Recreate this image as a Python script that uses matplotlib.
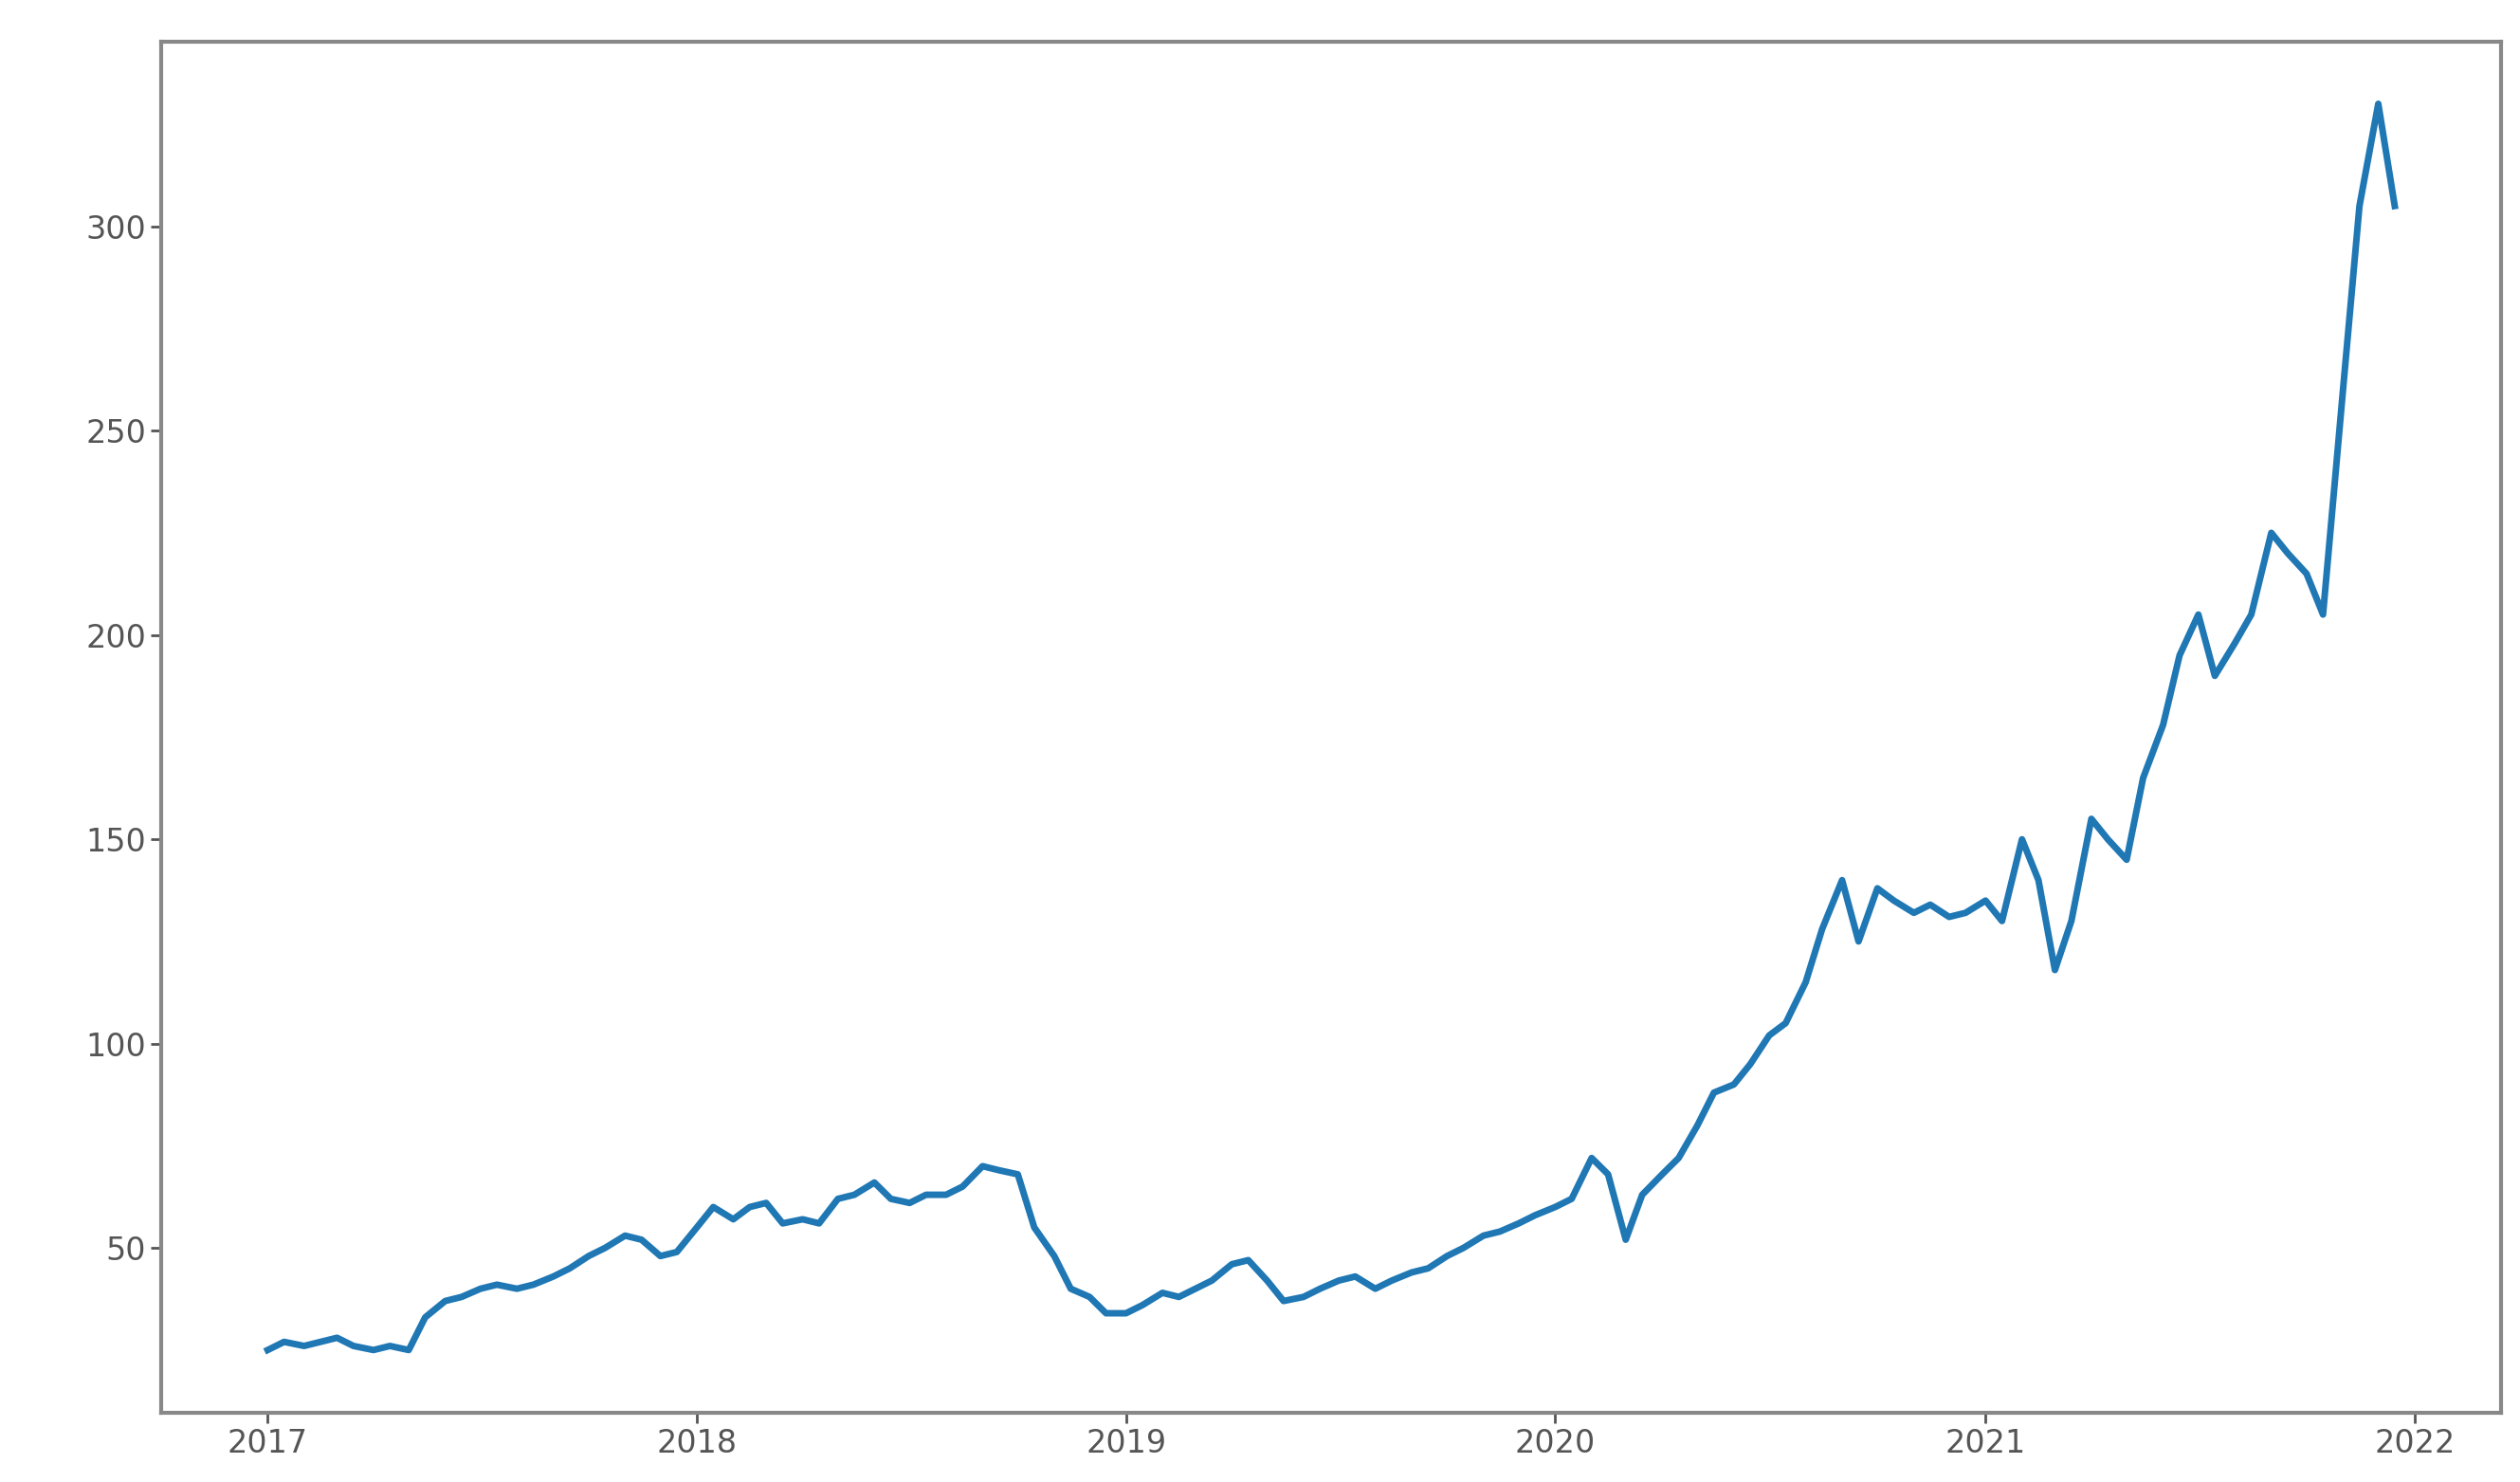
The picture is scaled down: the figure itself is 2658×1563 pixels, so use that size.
import matplotlib
matplotlib.use("Agg")
import matplotlib.pyplot as plt
import pandas as pd

start = "2017-01-01"
prices = [25, 27, 26, 27, 28, 26, 25, 26, 25, 33, 37, 38, 40, 41, 40, 41, 43, 45, 48, 50, 53, 52, 48, 49,
          55, 60, 57, 60, 61, 56, 57, 56, 62, 63, 66, 62, 61, 63, 63, 65, 70, 69, 68, 55, 48, 40, 38, 34,
          34, 36, 39, 38, 40, 42, 46, 47, 42, 37, 38, 40, 42, 43, 40, 42, 44, 45, 48, 50, 53, 54, 56, 58,
          60, 62, 72, 68, 52, 63, 68, 72, 80, 88, 90, 95, 102, 105, 115, 128, 140, 125, 138, 135, 132, 134, 131, 132,
          135, 130, 150, 140, 118, 130, 155, 150, 145, 165, 178, 195, 205, 190, 198, 205, 225, 220, 215, 205, 260, 305, 330, 305]
dates = pd.date_range(start, periods=len(prices), freq="SMS")

fig = plt.figure(figsize=(26.58, 15.63), dpi=100)
ax = fig.add_axes([0.064, 0.047, 0.9285, 0.925])
ax.plot(dates, prices, color="#1f77b4", lw=5)
for s in ax.spines.values():
    s.set_color("#888888"); s.set_linewidth(3)
ax.tick_params(labelsize=24, colors="#555555", length=8, width=2)
fig.savefig("out.png", dpi=100)
